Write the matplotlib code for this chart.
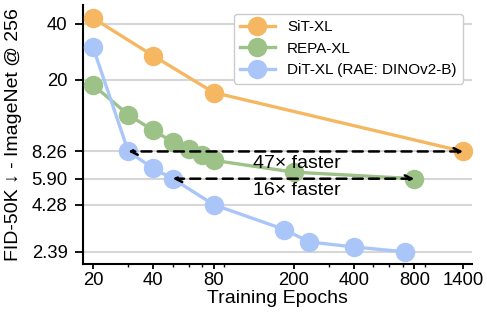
import matplotlib
matplotlib.use("Agg")
import matplotlib.pyplot as plt
from matplotlib.ticker import FixedLocator, NullFormatter, LogLocator, NullLocator

plt.rcParams['font.family'] = ['Liberation Sans', 'DejaVu Sans']

sit_epochs = [20, 40, 80, 1400]
sit_fid = [42.9, 26.9, 17.1, 8.26]

repa_epochs = [20, 30, 40, 50, 60, 70, 80, 200, 800]
repa_fid = [18.8, 13.0, 10.7, 9.3, 8.5, 7.9, 7.4, 6.4, 5.90]

rae_epochs = [20, 30, 40, 50, 80, 180, 240, 400, 720]
rae_fid = [30.0, 8.26, 6.7, 5.90, 4.28, 3.15, 2.70, 2.54, 2.39]

x_ticks = [20, 40, 80, 200, 400, 800, 1400]
y_ticks = [2.39, 4.28, 5.90, 8.26, 20, 40]
y_tick_labels = ["2.39", "4.28", "5.90", "8.26", "20", "40"]

c_orange = "#F5B762"
c_green = "#9DC287"
c_blue = "#AAC6F9"

fig = plt.figure(figsize=(4.87, 3.23), dpi=100)
ax = fig.add_axes([0.170, 0.183, 0.799, 0.802])

ax.set_xscale('log')
ax.set_yscale('log')

for yt in y_ticks:
    ax.axhline(yt, color='#d6d6d6', lw=1.5, zorder=0)

kw = dict(marker='o', markersize=13, lw=2.4)
ax.plot(sit_epochs, sit_fid, color=c_orange, label='SiT-XL', zorder=3, **kw)
ax.plot(repa_epochs, repa_fid, color=c_green, label='REPA-XL', zorder=3, **kw)
ax.plot(rae_epochs, rae_fid, color=c_blue, label='DiT-XL (RAE: DINOv2-B)', zorder=3, **kw)

arrowprops = dict(arrowstyle='<->', linestyle=(0, (4, 2.5)), lw=1.8, color='black',
                  shrinkA=0, shrinkB=0, mutation_scale=12)
ax.annotate('', xy=(rae_epochs[1], sit_fid[-1]), xytext=(sit_epochs[-1], sit_fid[-1]),
            arrowprops=arrowprops, zorder=4)
ax.annotate('', xy=(rae_epochs[3], repa_fid[-1]), xytext=(repa_epochs[-1], repa_fid[-1]),
            arrowprops=arrowprops, zorder=4)

ax.text(207, 7.15, '47× faster', ha='center', va='center', fontsize=14, zorder=5)
ax.text(207, 5.1, '16× faster', ha='center', va='center', fontsize=14, zorder=5)

ax.set_xlim(17.8, 1550)
ax.set_ylim(2.06, 50.5)

ax.xaxis.set_major_locator(FixedLocator(x_ticks))
ax.set_xticklabels([str(v) for v in x_ticks])
ax.xaxis.set_minor_locator(LogLocator(base=10, subs=range(2, 10)))
ax.xaxis.set_minor_formatter(NullFormatter())
ax.yaxis.set_major_locator(FixedLocator(y_ticks))
ax.set_yticklabels(y_tick_labels)
ax.yaxis.set_minor_locator(NullLocator())

ax.tick_params(axis='both', which='major', labelsize=13.3, width=1.3)
ax.tick_params(axis='x', which='major', length=3.5, pad=2.3)
ax.tick_params(axis='y', which='major', length=6, pad=5)
ax.tick_params(axis='x', which='minor', length=2.2, width=1)

for s in ['top', 'right']:
    ax.spines[s].set_visible(False)
for s in ['left', 'bottom']:
    ax.spines[s].set_linewidth(1.5)

ax.set_xlabel('Training Epochs', fontsize=14, labelpad=1)
ax.set_ylabel('FID-50K ↓ - ImageNet @ 256', fontsize=14, labelpad=7)

leg = ax.legend(loc='upper right', fontsize=11, handlelength=2.3, framealpha=1,
                edgecolor='#cccccc', borderaxespad=0.6)
leg.set_zorder(10)

fig.savefig('out.png', dpi=100)
